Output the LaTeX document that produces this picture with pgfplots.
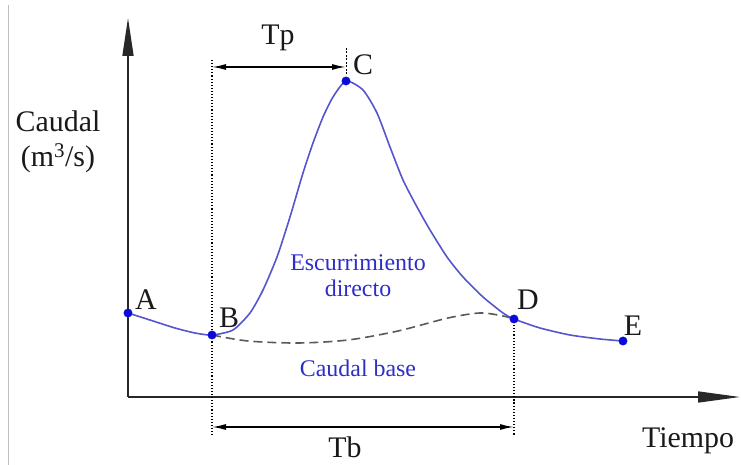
\documentclass[border=0pt]{standalone}
\usepackage{pgfplots}
\pgfplotsset{compat=1.18}
\usepackage{fontspec}
\setmainfont{Liberation Serif}
\usetikzlibrary{arrows.meta}
\definecolor{curveblue}{RGB}{85,85,205}
\definecolor{ptblue}{RGB}{10,10,220}
\definecolor{txtblue}{RGB}{45,45,200}
\definecolor{axgray}{RGB}{40,40,40}
\begin{document}
\begin{tikzpicture}
\begin{axis}[
  scale only axis, width=741bp, height=465bp,
  xmin=-12.8, xmax=61.3, ymin=-6.8, ymax=39.7,
  axis lines=none, clip=false,
]
% axes
\draw[axgray, line width=1.6bp, -{Triangle[length=42bp,width=11bp]}] (axis cs:0,0) -- (axis cs:61.2,0);
\draw[axgray, line width=1.6bp, -{Triangle[length=38bp,width=11bp]}] (axis cs:0,0) -- (axis cs:0,37.9);
% frame edge
\draw[black!25, line width=1bp] (axis cs:-12.0,-6.8) -- (axis cs:-12.0,39.2);
% dotted guides
\draw[black, dotted, line width=1.1bp] (axis cs:8.4,33.7) -- (axis cs:8.4,-3.8);
\draw[black, dotted, line width=1.1bp] (axis cs:38.6,7.8) -- (axis cs:38.6,-3.8);
\draw[black, line width=0.8bp, dash pattern=on 2bp off 1.5bp] (axis cs:21.8,34.9) -- (axis cs:21.8,32.2);
% Tp and Tb arrows
\draw[black, line width=1.5bp, {Latex[length=14bp,width=6bp]}-{Latex[length=14bp,width=6bp]}] (axis cs:8.4,33.0) -- (axis cs:21.8,33.0);
\draw[black, line width=1.5bp, {Latex[length=14bp,width=6bp]}-{Latex[length=14bp,width=6bp]}] (axis cs:8.4,-3.0) -- (axis cs:38.6,-3.0);
% base flow (dashed)
\addplot[color=black!65, line width=1.6bp, dash pattern=on 9bp off 5bp, smooth, tension=0.5] coordinates {
 (8.4,6.2) (12,5.6) (17,5.4) (22,5.7) (27,6.6) (32,7.9) (35.2,8.4) (37.5,8.1) (38.6,7.8)};
% hydrograph
\addplot[color=curveblue, line width=1.6bp, smooth, tension=0.4] coordinates {
 (0,8.4) (2.2,7.7) (4.7,6.9) (6.7,6.4) (8.4,6.2) (10.5,6.7) (12.2,8.4) (13.5,10.7)
 (14.9,14.0) (16.2,18.0) (17.5,22.4) (18.5,25.4) (19.5,28.0) (20.5,30.0) (21.8,31.6)
 (23.5,30.7) (24.9,28.4) (26.2,25.0) (27.5,21.7) (28.9,19.0) (30.2,16.7) (31.9,14.0)
 (33.5,12.0) (35.5,10.0) (37.5,8.4) (38.6,7.8) (41.2,6.9) (44.2,6.2) (47.2,5.8) (49.5,5.6)};
% key points
\addplot[only marks, mark=*, mark size=4.2bp, color=ptblue] coordinates {
 (0,8.4) (8.4,6.2) (21.8,31.6) (38.6,7.8) (49.5,5.6)};
% labels
\begin{scope}[every node/.style={text=black!90, font=\rmfamily\fontsize{30}{32}\selectfont}]
\node at (axis cs:15.0,35.9) {Tp};
\node at (axis cs:21.7,-5.0) {Tb};
\node at (axis cs:56.0,-4.4) {Tiempo};
\node[align=center, font=\rmfamily\fontsize{30}{35}\selectfont] at (axis cs:-7.0,25.5) {Caudal\\(m\textsuperscript{3}/s)};
\node at (axis cs:1.8,9.7) {A};
\node at (axis cs:10.1,7.9) {B};
\node at (axis cs:23.5,33.2) {C};
\node at (axis cs:40.0,9.7) {D};
\node at (axis cs:50.5,7.1) {E};
\end{scope}
\begin{scope}[every node/.style={text=txtblue, font=\rmfamily\fontsize{24}{26}\selectfont}]
\node[align=center] at (axis cs:23.0,12.1) {Escurrimiento\\directo};
\node at (axis cs:23.0,2.9) {Caudal base};
\end{scope}
\end{axis}
\pgfresetboundingbox
\path[use as bounding box] (current axis.south west) rectangle (current axis.north east);
\end{tikzpicture}
\end{document}
